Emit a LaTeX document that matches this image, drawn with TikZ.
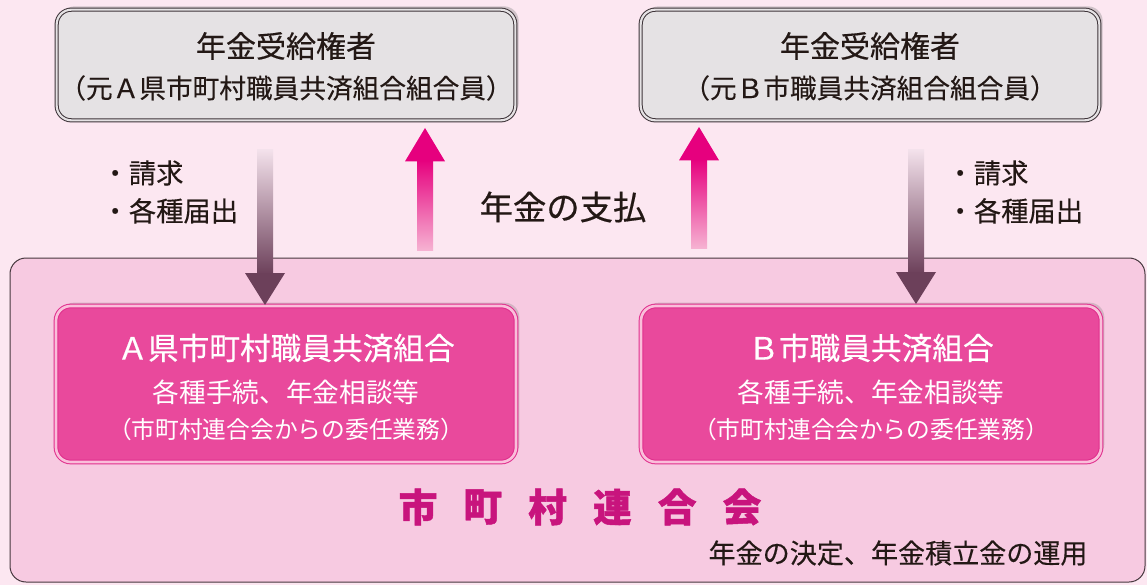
\documentclass[tikz,border=0pt]{standalone}
\usepackage{fontspec}
\setmainfont{Noto Sans CJK JP}
\newfontfamily\jpheavy[FakeBold=1.2]{Noto Sans CJK JP}
\newfontfamily\jpmid[FakeBold=0.5]{Noto Sans CJK JP}
\newfontfamily\jplight[FakeBold=0.2]{Noto Sans CJK JP}
\usetikzlibrary{shadows}

\definecolor{bgpink}{RGB}{252,231,241}
\definecolor{areapink}{RGB}{247,202,225}
\definecolor{arealine}{RGB}{70,55,62}
\definecolor{boxgray}{RGB}{229,226,228}
\definecolor{linegray}{RGB}{62,52,57}
\definecolor{boxmag}{RGB}{233,73,156}
\definecolor{edgemag}{RGB}{224,45,140}
\definecolor{paleline}{RGB}{250,190,218}
\definecolor{txt}{RGB}{35,24,21}
\definecolor{unionmag}{RGB}{200,20,125}
\definecolor{arrdark}{RGB}{108,64,90}
\definecolor{arrlight}{RGB}{243,225,235}
\definecolor{arrmag}{RGB}{230,0,126}
\definecolor{arrpale}{RGB}{246,178,210}

\tikzset{every picture/.style={line width=0.75pt}}
\tikzset{
  holderbox/.style={draw=linegray, double=boxgray, double distance=1.6pt, fill=boxgray,
    rounded corners=11pt, minimum width=344pt, minimum height=83pt,
    drop shadow={shadow xshift=2.5pt, shadow yshift=2.5pt, opacity=0.35}},
  officebox/.style={draw=edgemag, double=paleline, double distance=2pt, fill=boxmag,
    rounded corners=11pt, minimum width=345pt, minimum height=117pt,
    drop shadow={shadow xshift=2.5pt, shadow yshift=2.5pt, opacity=0.3}},
  bigtext/.style={text=txt, font=\jpmid\fontsize{22.5}{27}\selectfont, inner sep=0.75pt},
  midtext/.style={text=txt, font=\jplight\fontsize{20}{24}\selectfont, inner sep=0.75pt},
  whitetitle/.style={text=white, font=\jpmid\fontsize{23}{28}\selectfont, inner sep=0.75pt},
  whitetext/.style={text=white, font=\fontsize{20}{24}\selectfont, inner sep=0.75pt},
  whitesmall/.style={text=white, font=\fontsize{17.8}{22}\selectfont, inner sep=0.75pt},
  listtext/.style={text=txt, font=\jplight\fontsize{20.5}{28.5}\selectfont, align=left, inner sep=0.75pt}
}

\begin{document}
\begin{tikzpicture}[x=0.75pt,y=0.75pt,yscale=-1,xscale=1]
\useasboundingbox (0,0) rectangle (1147,585);
\fill [bgpink] (0,0) rectangle (1147,585);

%Rounded Rect (union area)
\draw [draw=arealine, fill=areapink, rounded corners=12pt] (10,258) rectangle (1145,582);

%Rounded Rect (pension holders)
\node (holderA) [holderbox] at (286,65) {};
\node (holderB) [holderbox] at (870,65) {};
% Text Node
\node (holderAtop) [bigtext] at (286,46) {年金受給権者};
\node (holderAsub) [midtext] at (286,88) {（元Ａ県市町村職員共済組合組合員）};
\node (holderBtop) [bigtext] at (870,46) {年金受給権者};
\node (holderBsub) [midtext] at (870,88) {（元Ｂ市職員共済組合組合員）};

%Rounded Rect (mutual aid associations)
\node (officeA) [officebox] at (286,384) {};
\node (officeB) [officebox] at (871,384) {};
% Text Node
\node (officeAtop) [whitetitle] at (286,348) {Ａ県市町村職員共済組合};
\node (officeAmid) [whitetext] at (286,392) {各種手続、年金相談等};
\node (officeAbot) [whitesmall] at (286,429) {（市町村連合会からの委任業務）};
\node (officeBtop) [whitetitle] at (871,348) {Ｂ市職員共済組合};
\node (officeBmid) [whitetext] at (871,392) {各種手続、年金相談等};
\node (officeBbot) [whitesmall] at (871,429) {（市町村連合会からの委任業務）};

%Arrows (requests, down)
\coordinate (reqAtop) at (265,150);
\coordinate (reqAtip) at (265,305);
\coordinate (reqBtop) at (916,150);
\coordinate (reqBtip) at (916,304);
\foreach \s/\t in {reqAtop/reqAtip, reqBtop/reqBtip}{
  \shade [top color=arrlight, bottom color=arrdark] ([xshift=-6pt]\s) rectangle ([xshift=6pt,yshift=-23pt]\t);
  \fill [arrdark] ([xshift=-15pt,yshift=-24pt]\t) -- ([xshift=15pt,yshift=-24pt]\t) -- (\t) -- cycle;
}

%Arrows (payment, up)
\coordinate (payAbot) at (425,250);
\coordinate (payAtip) at (425,128);
\coordinate (payBbot) at (699,248);
\coordinate (payBtip) at (699,127);
\foreach \s/\t in {payAbot/payAtip, payBbot/payBtip}{
  \shade [top color=arrmag, bottom color=arrpale] ([xshift=-6pt,yshift=24pt]\t) rectangle ([xshift=6pt]\s);
  \fill [arrmag] ([xshift=-15pt,yshift=25pt]\t) -- ([xshift=15pt,yshift=25pt]\t) -- (\t) -- cycle;
}

% Text Node
\node (reqAtext) [listtext, anchor=west] at (100,192) {・請求\\・各種届出};
\node (reqBtext) [listtext, anchor=west] at (945,192) {・請求\\・各種届出};
\node (paytext) [text=txt, font=\jpmid\fontsize{25}{30}\selectfont, inner sep=0.75pt] at (563,207) {年金の支払};

%Union name
\foreach \ch [count=\i from 0] in {市,町,村,連,合,会}
  \node (union\i) [text=unionmag, font=\jpheavy\bfseries\fontsize{29}{34}\selectfont, inner sep=0.75pt] at (418+64.8*\i,507) {\ch};
\node (uniontask) [midtext, anchor=east, font=\jplight\fontsize{20.3}{24}\selectfont] at (1089,553) {年金の決定、年金積立金の運用};

\end{tikzpicture}
\end{document}
